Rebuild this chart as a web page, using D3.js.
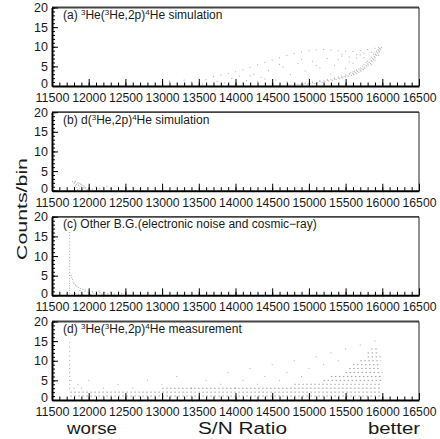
<!DOCTYPE html>
<html><head><meta charset="utf-8">
<script src="https://cdn.jsdelivr.net/npm/d3@7"></script>
<style>body{margin:0;background:#fff}svg{display:block}text{font-family:"Liberation Sans",Arial,sans-serif;fill:#1a1a1a}</style>
</head><body><svg id="chart" width="440" height="439"></svg>
<script>
// ---- data ----
const xTicks = [11500,12000,12500,13000,13500,14000,14500,15000,15500,16000,16500];
const yTicks = [0,5,10,15,20];
const panelTitles = [
  [["(a) ",0],["3",1],["He(",0],["3",1],["He,2p)",0],["4",1],["He simulation",0]],
  [["(b) d(",0],["3",1],["He,2p)",0],["4",1],["He simulation",0]],
  [["(c) Other B.G.(electronic noise and cosmic\u2212ray)",0]],
  [["(d) ",0],["3",1],["He(",0],["3",1],["He,2p)",0],["4",1],["He measurement",0]]
];
// (a) simulated 3He(3He,2p)4He : dense lower band
const aBand = [[14500,0.1],[14550,0.05],[14600,0.15],[14650,0.1],[14700,0.2],[14720,0.3],[14750,0.15],[14800,0.3],[14820,0.2],[14850,0.4],[14880,0.3],[14900,0.5],[14920,0.35],[14950,0.6],[14980,0.45],[15000,0.7],[15020,0.55],[15050,0.8],[15080,0.65],[15100,0.95],[15120,0.8],[15150,1.1],[15180,0.95],[15200,1.3],[15220,1.1],[15250,1.45],[15270,1.3],[15300,1.6],[15320,1.45],[15350,1.8],[15370,1.65],[15400,2.0],[15420,1.85],[15440,2.2],[15460,2.0],[15480,2.4],[15500,2.3],[15520,2.6],[15540,2.5],[15560,2.9],[15580,2.7],[15600,3.2],[15610,2.95],[15630,3.4],[15650,3.2],[15660,3.7],[15680,3.5],[15700,4.0],[15710,3.8],[15720,4.4],[15740,4.2],[15750,4.8],[15760,4.5],[15780,5.2],[15790,4.9],[15800,5.6],[15810,5.3],[15820,6.0],[15840,5.7],[15850,6.5],[15860,6.2],[15870,7.0],[15880,6.7],[15890,7.5],[15900,7.2],[15910,8.0],[15920,7.8],[15930,8.5],[15940,8.2],[15950,9.0],[15960,8.7],[15970,9.5],[15980,9.2],[15990,9.8],[15700,4.6],[15750,5.5],[15800,6.3],[15850,7.3],[15900,8.4],[15650,4.0],[15600,3.6],[15550,3.2],[15500,2.8],[15450,2.5],[15850,5.4],[15900,6.6],[15950,7.8],[15960,9.6],[15940,9.3],[15920,8.9],[15880,8.1],[15830,6.9],[15780,6.0],[15730,5.1],[15680,4.3],[15620,3.8],[15570,3.4],[15400,2.3],[15350,2.0],[15250,1.7],[15150,1.3],[15050,1.0],[14950,0.8]];
// (a) sparse upper arc and interior
const aSparse = [[13000,0.8],[13100,1.2],[13200,0.6],[13300,1.5],[13400,1.0],[13500,2.0],[13550,0.5],[13600,1.6],[13700,2.4],[13750,1.2],[13800,2.8],[13850,0.8],[13900,3.2],[13950,1.9],[14000,3.6],[14050,2.5],[14100,4.1],[14150,1.4],[14200,4.7],[14250,3.0],[14300,5.4],[14350,2.2],[14400,6.0],[14450,3.9],[14500,6.6],[14550,1.5],[14600,7.2],[14650,4.8],[14700,7.8],[14750,2.9],[14800,8.3],[14850,5.7],[14900,8.7],[14950,3.8],[15000,9.0],[15050,6.3],[15100,9.2],[15150,4.6],[15200,9.3],[15250,7.0],[15300,9.2],[15350,5.3],[15400,9.0],[15450,7.6],[15500,8.9],[15550,6.1],[15600,8.8],[15650,8.0],[15700,9.0],[15750,7.2],[15800,9.3],[15850,8.6],[15900,9.6],[15950,9.9],[14100,0.7],[14300,1.1],[14500,0.6],[14700,1.0],[14200,2.6],[14400,1.8],[15000,2.0],[15100,5.2],[15300,3.0],[15400,6.7],[15500,4.4],[15600,5.8],[14900,6.8],[14600,5.5],[13600,0.3],[13900,0.4],[15650,7.1],[15700,7.9],[15750,8.4],[15550,7.4],[15450,8.1]];
// (b) d(3He,2p)4He simulation
const bPoints = [[11780,2.3],[11800,1.8],[11810,2.1],[11820,1.2],[11830,1.6],[11840,0.8],[11850,2.0],[11860,1.4],[11870,0.6],[11880,1.1],[11890,1.7],[11900,0.9],[11910,0.4],[11920,1.3],[11930,0.7],[11940,1.0],[11950,0.5],[11960,0.8],[11980,0.3],[12000,0.6],[11800,0.9],[11820,2.4],[11850,0.3],[11870,1.9],[11900,1.5],[12050,0.4],[12100,1.0],[12150,0.5],[12200,0.9],[12300,0.6],[12400,1.0],[12500,0.7],[12600,0.9],[12700,0.4],[12250,1.1]];
// (c) other background
const cPoints = [[11740,16],[11740,15.2],[11740,14.5],[11740,13.6],[11740,12.8],[11740,12],[11740,11.1],[11740,10.4],[11740,9.6],[11740,8.8],[11740,8],[11740,7.3],[11740,6.5],[11740,5.8],[11740,5],[11740,4.3],[11740,3.6],[11740,3],[11740,2.4],[11740,1.8],[11740,1.2],[11740,0.6],[11760,5],[11770,4.5],[11780,4],[11790,3.4],[11800,3],[11820,2.6],[11840,2.3],[11860,2.0],[11890,1.7],[11920,1.5],[11960,1.35],[12000,1.2],[12050,1.0],[12100,0.9],[12150,0.7],[11820,0.5],[11860,0.3],[11880,1.2],[11920,0.2],[11950,1.0],[11990,0.8],[12020,0.2],[12060,0.6],[12100,0.4],[12140,1.1],[12180,0.3],[12220,0.7],[12260,0.4],[12300,0.8],[12350,0.3],[12450,0.5]];
// (d) measurement: integer-count rows and scattered points
const dRowLevel = [1,2,3,4,5,6,7,8,9,10,11,12,13];
const dRowStart = [11750,11750,13000,14800,15200,15300,15500,15550,15600,15700,15800,15800,15850];
const dRowEnd   = [16000,16000,16000,16000,16000,16000,16000,15980,15980,15980,15980,15950,15950];
const dPoints = [[11740,14.6],[11740,13.5],[11740,12.4],[11740,11.2],[11740,10.1],[11740,9],[11740,8],[11740,7],[11740,6],[11740,5],[11740,4],[11740,3],[11760,5],[11800,3],[11850,4],[11900,3],[12000,5],[12200,3],[12400,4],[12600,3],[12800,5],[13000,4],[13200,6],[13400,3],[13600,5],[13800,4],[13900,7],[14000,3],[14100,5],[14200,8],[14300,4],[14400,6],[14500,9],[14600,5],[14700,7],[14800,10],[14900,6],[15000,8],[15100,11],[15200,9],[15300,12],[15400,10],[15500,13],[15700,14],[15900,15]];
const panelData = [aBand.concat(aSparse), bPoints, cPoints, dPoints];

// ---- layout ----
const svg = d3.select("#chart");
const L = 52, R = 419, H = 78.5;
const tops = [7.5, 112.2, 216.8, 321.5];
const x = d3.scaleLinear().domain([11500,16500]).range([L,R]);
const minorX = d3.range(11500,16501,100);
const minorY = d3.range(0,21,1);

tops.forEach((top,i)=>{
  const bottom = top + H;
  const y = d3.scaleLinear().domain([0,20]).range([bottom, top]);
  const g = svg.append("g");
  g.append("line").attr("x1",L).attr("x2",R).attr("y1",top).attr("y2",top).attr("stroke","#444").attr("stroke-width",1.8);
  g.append("line").attr("x1",R).attr("x2",R).attr("y1",top).attr("y2",bottom).attr("stroke","#222").attr("stroke-width",1);
  if(i===3){
    g.append("g").selectAll("line").data(dRowLevel).join("line")
      .attr("x1",(d,k)=>x(dRowStart[k])).attr("x2",(d,k)=>x(dRowEnd[k]))
      .attr("y1",d=>y(d)).attr("y2",d=>y(d))
      .attr("stroke","#888").attr("stroke-width",0.8).attr("stroke-dasharray","1.5,2.5");
  }
  g.append("g").selectAll("rect").data(panelData[i]).join("rect")
    .attr("x",d=>x(d[0])-0.5).attr("y",d=>y(d[1])-0.5).attr("width",1).attr("height",1)
    .attr("fill","#666").attr("fill-opacity",0.55);
  g.append("g").attr("transform",`translate(0,${bottom})`)
    .call(d3.axisBottom(x).tickValues(minorX).tickSize(-3.5).tickSizeOuter(0).tickFormat(""))
    .call(s=>s.select(".domain").attr("stroke-width",2));
  const xa = g.append("g").attr("transform",`translate(0,${bottom})`)
    .call(d3.axisBottom(x).tickValues(xTicks).tickSize(-7).tickSizeOuter(0).tickPadding(7.5).tickFormat(d3.format("d")));
  xa.select(".domain").remove();
  xa.selectAll("text").attr("font-size",12).attr("font-family","Liberation Sans, Arial, sans-serif")
    .attr("textLength",34).attr("lengthAdjust","spacingAndGlyphs");
  g.append("g").attr("transform",`translate(${L},0)`)
    .call(d3.axisLeft(y).tickValues(minorY).tickSize(-3).tickSizeOuter(0).tickFormat(""))
    .call(s=>s.select(".domain").attr("stroke-width",2));
  const ya = g.append("g").attr("transform",`translate(${L},0)`)
    .call(d3.axisLeft(y).tickValues(yTicks).tickSize(-6).tickSizeOuter(0).tickPadding(4));
  ya.select(".domain").remove();
  ya.selectAll("text").attr("font-size",12.5).attr("font-family","Liberation Sans, Arial, sans-serif")
    .attr("dy",d=>d===0?"0.15em":"0.32em");
  const t = g.append("text").attr("x",63).attr("y",top+11.5).attr("font-size",12);
  let prevSup = false;
  panelTitles[i].forEach(([s,sup])=>{
    const ts = t.append("tspan").text(s);
    if(sup){ ts.attr("font-size",8).attr("dy",-4); prevSup = true; }
    else { if(prevSup) ts.attr("dy",4); prevSup = false; }
  });
});

svg.append("text").attr("transform","translate(27,209) rotate(-90)").attr("text-anchor","middle")
  .attr("font-size",15).attr("textLength",102).attr("lengthAdjust","spacingAndGlyphs").text("Counts/bin");
svg.append("text").attr("x",242.5).attr("y",434).attr("text-anchor","middle")
  .attr("font-size",16).attr("textLength",89).attr("lengthAdjust","spacingAndGlyphs").text("S/N Ratio");
svg.append("text").attr("x",67).attr("y",434).attr("font-size",16)
  .attr("textLength",50).attr("lengthAdjust","spacingAndGlyphs").text("worse");
svg.append("text").attr("x",368).attr("y",434).attr("font-size",16)
  .attr("textLength",52).attr("lengthAdjust","spacingAndGlyphs").text("better");
</script></body></html>
